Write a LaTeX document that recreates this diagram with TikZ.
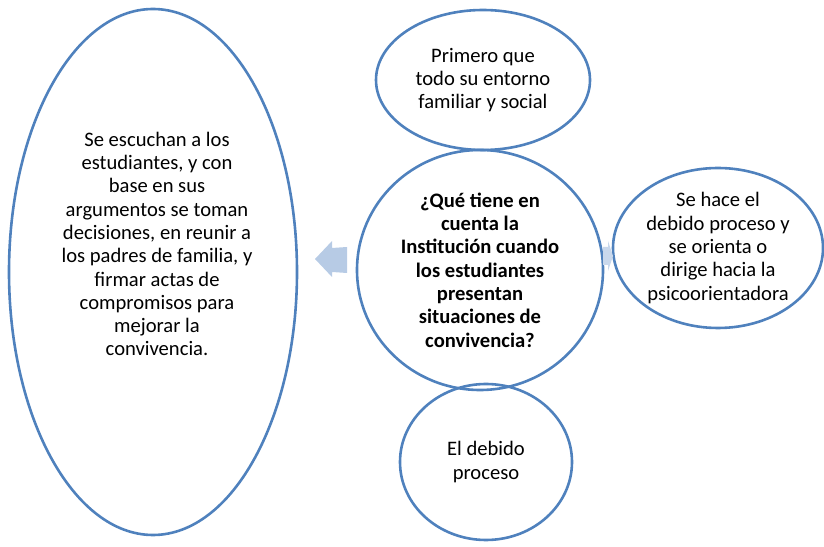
\documentclass[tikz,border=0pt]{standalone}
\usepackage{fontspec}
\setmainfont{Carlito}
\usetikzlibrary{shapes.geometric}
\definecolor{borde}{RGB}{79,129,189}
\definecolor{flecha}{RGB}{183,203,229}

\begin{document}
\begin{tikzpicture}[x=1pt,y=1pt,
        elipse/.style={draw=borde,line width=2.6pt,ellipse,inner sep=0pt},
        txt/.style={align=center,font=\fontsize{20.6}{23.3}\selectfont,inner sep=0pt}]
            \useasboundingbox (0,0) rectangle (824,546);

            \node[elipse,minimum width=288,minimum height=526] (izq) at (153,274) {};
            \node[txt] (izqtxt) at (157,302) {Se escuchan a los\\estudiantes, y con\\base en sus\\argumentos se toman\\decisiones, en reunir a\\los padres de familia, y\\firmar actas de\\compromisos para\\mejorar la\\convivencia.};

            \node[elipse,txt,minimum width=214,minimum height=140] (arriba) at (483,466) {Primero que\\todo su entorno\\familiar y social};
            \node[elipse,txt,minimum width=210,minimum height=160] (der) at (718,298) {Se hace el\\debido proceso y\\se orienta o\\dirige hacia la\\psicoorientadora};
            \node[elipse,txt,minimum width=172,minimum height=156] (abajo) at (486,84) {El debido\\proceso};
            \node[elipse,txt,font=\fontsize{20.6}{23.3}\selectfont\bfseries,minimum width=246,minimum height=240] (centro) at (480,276) {¿Qué tiene en\\cuenta la\\Institución cuando\\los estudiantes\\presentan\\situaciones de\\convivencia?};

            % flechas
            \fill[flecha] (315,287) -- (332,305) -- (332,298) -- (347,299) -- (347,273) -- (332,274) -- (332,269) -- cycle;
            \fill[flecha!75] (603,299) -- (608,299) -- (608,305) -- (613,290) -- (608,275) -- (608,281) -- (603,281) -- cycle;
        \end{tikzpicture}
\end{document}
